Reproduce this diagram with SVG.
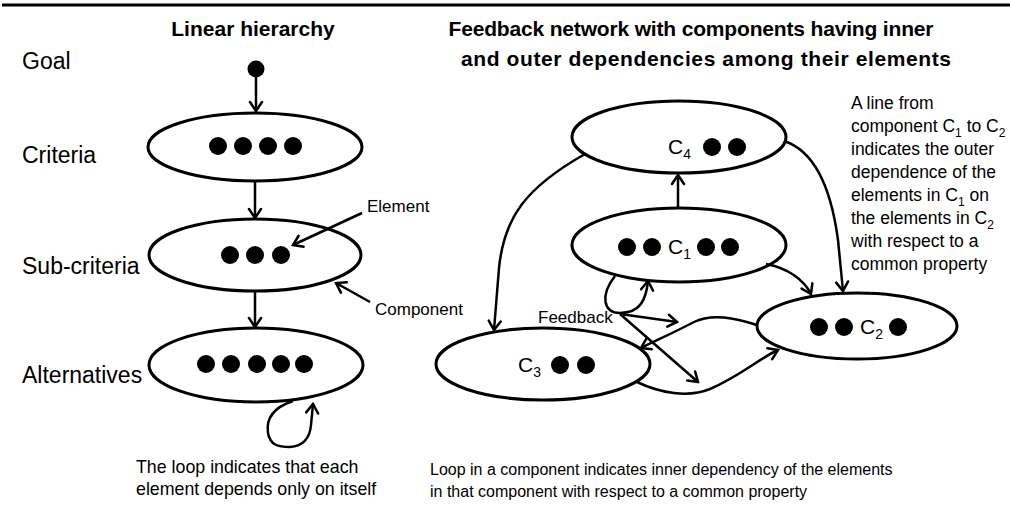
<svg xmlns="http://www.w3.org/2000/svg" width="1010" height="505" viewBox="0 0 1010 505">
<defs>
<style>
text{font-family:"Liberation Sans",Arial,sans-serif;fill:#000}
.title{font-weight:bold;font-size:21px}
.lvl{font-size:23px}
.sm{font-size:17px}
.ann{font-size:17.5px}
.botl{font-size:17.8px}
.botr{font-size:16px}
.cl{font-size:21px}
.comp{fill:#fff;stroke:#000;stroke-width:3}
.dot{fill:#000}
.con{fill:none;stroke:#000;stroke-width:2.5;marker-end:url(#ah)}
</style>
<marker id="ah" markerUnits="userSpaceOnUse" viewBox="-12 -10 14 20" markerWidth="14" markerHeight="20" refX="0" refY="0" orient="auto">
<path d="M-9,-6 L0,0 L-9,6" fill="none" stroke="#000" stroke-width="2.5" stroke-linecap="round" stroke-linejoin="miter"/>
</marker>
</defs>
<rect width="1010" height="505" fill="#fff"/>
<line x1="2" y1="5" x2="1010" y2="5" stroke="#000" stroke-width="3"/>

<g id="titles">
<text class="title" x="253" y="36" text-anchor="middle">Linear hierarchy</text>
<text class="title" x="691" y="36" text-anchor="middle" textLength="485">Feedback network with components having inner</text>
<text class="title" x="706" y="66" text-anchor="middle" textLength="490">and outer dependencies among their elements</text>
</g>

<g id="level-labels">
<text class="lvl" x="22" y="69">Goal</text>
<text class="lvl" x="22" y="163">Criteria</text>
<text class="lvl" x="22" y="274">Sub-criteria</text>
<text class="lvl" x="22" y="383">Alternatives</text>
</g>

<g id="goal"><circle class="dot" cx="256" cy="69" r="8.5"/></g>

<g id="criteria">
<ellipse class="comp" cx="255" cy="147" rx="107" ry="34"/>
<circle class="dot" cx="218" cy="146" r="9"/><circle class="dot" cx="243" cy="146" r="9"/><circle class="dot" cx="268" cy="146" r="9"/><circle class="dot" cx="293" cy="146" r="9"/>
</g>

<g id="sub-criteria">
<ellipse class="comp" cx="255" cy="255" rx="106" ry="36"/>
<circle class="dot" cx="230" cy="255" r="9"/><circle class="dot" cx="255" cy="255" r="9"/><circle class="dot" cx="281" cy="255" r="9"/>
</g>

<g id="alternatives">
<ellipse class="comp" cx="256" cy="365" rx="107" ry="37"/>
<circle class="dot" cx="206" cy="364" r="9"/><circle class="dot" cx="231" cy="364" r="9"/><circle class="dot" cx="257" cy="364" r="9"/><circle class="dot" cx="281" cy="364" r="9"/><circle class="dot" cx="304" cy="364" r="9"/>
</g>

<g id="c4">
<ellipse class="comp" cx="679" cy="137" rx="107" ry="36"/>
<text class="cl" x="668" y="154">C<tspan font-size="14" dy="5">4</tspan></text>
<circle class="dot" cx="712" cy="147" r="9"/><circle class="dot" cx="737" cy="147" r="9"/>
</g>

<g id="c1">
<ellipse class="comp" cx="679" cy="245" rx="107" ry="37"/>
<circle class="dot" cx="627" cy="247" r="9"/><circle class="dot" cx="652" cy="247" r="9"/>
<text class="cl" x="668" y="254">C<tspan font-size="14" dy="5">1</tspan></text>
<circle class="dot" cx="706" cy="247" r="9"/><circle class="dot" cx="730" cy="247" r="9"/>
</g>

<g id="c2">
<ellipse class="comp" cx="857" cy="326" rx="100" ry="33"/>
<circle class="dot" cx="819" cy="327" r="9"/><circle class="dot" cx="844" cy="327" r="9"/>
<text class="cl" x="860" y="334">C<tspan font-size="14" dy="5">2</tspan></text>
<circle class="dot" cx="898" cy="327" r="9"/>
</g>

<g id="c3">
<ellipse class="comp" cx="543" cy="364" rx="107" ry="36"/>
<text class="cl" x="518" y="372">C<tspan font-size="14" dy="5">3</tspan></text>
<circle class="dot" cx="560" cy="365" r="9"/><circle class="dot" cx="586" cy="365" r="9"/>
</g>

<g id="connectors">
<line class="con" x1="256" y1="77" x2="256" y2="111"/>
<line class="con" x1="255" y1="181" x2="255" y2="218"/>
<line class="con" x1="255" y1="291" x2="255" y2="327"/>
<line class="con" x1="362" y1="213" x2="293" y2="245"/>
<line class="con" x1="370" y1="302" x2="336" y2="283"/>
<path class="con" d="M293,401 C272,408 266,420 268,433 C270,445 278,447 290,447 C305,446 310,436 311,425 L313,404"/>
<line class="con" x1="678" y1="208" x2="678" y2="175"/>
<path class="con" d="M585,154 C525,188 504,218 499,268 L494,330"/>
<path class="con" d="M784,141 C818,152 832,195 838,240 L843,291"/>
<path class="con" d="M766,264 C788,268 804,280 811,294"/>
<path class="con" d="M615,276 C600,295 603,313 620,313 C640,313 646,300 648,281"/>
<line class="con" x1="620" y1="314" x2="677" y2="322"/>
<line class="con" x1="620" y1="314" x2="698" y2="382"/>
<path class="con" d="M757,325 C735,318 712,313 694,322 C675,332 655,341 641,348"/>
<path class="con" d="M637,382 C660,393 688,398 710,389 C740,376 760,358 778,350"/>
</g>

<g id="labels">
<text class="sm" x="367" y="212">Element</text>
<text class="sm" x="375" y="315">Component</text>
<text class="sm" x="538" y="323">Feedback</text>
</g>

<g id="annotation">
<text class="ann" x="851" y="109">A line from</text>
<text class="ann" x="851" y="132">component C<tspan font-size="12" dy="5">1</tspan><tspan dy="-5"> to C</tspan><tspan font-size="12" dy="5">2</tspan></text>
<text class="ann" x="851" y="155">indicates the outer</text>
<text class="ann" x="851" y="178">dependence of the</text>
<text class="ann" x="851" y="201">elements in C<tspan font-size="12" dy="5">1</tspan><tspan dy="-5"> on</tspan></text>
<text class="ann" x="851" y="224">the elements in C<tspan font-size="12" dy="5">2</tspan></text>
<text class="ann" x="851" y="247">with respect to a</text>
<text class="ann" x="851" y="270">common property</text>
</g>

<g id="notes">
<text class="botl" x="136" y="473">The loop indicates that each</text>
<text class="botl" x="136" y="495">element depends only on itself</text>
<text class="botr" x="430" y="475">Loop in a component indicates inner dependency of the elements</text>
<text class="botr" x="430" y="497">in that component with respect to a common property</text>
</g>
</svg>
